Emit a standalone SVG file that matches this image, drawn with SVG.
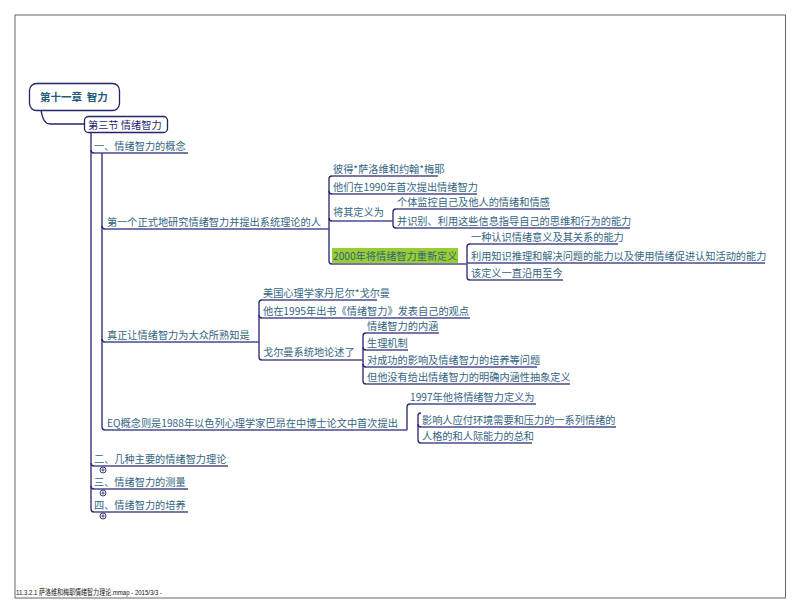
<svg xmlns="http://www.w3.org/2000/svg" width="793" height="613" viewBox="0 0 793 613">
<style>
  .t { font-family: "Noto Sans CJK SC", "Noto Sans", sans-serif; font-size: 10.2px; fill: #33657f; }
  .ul { stroke: #4a4a8e; stroke-width: 1.3; fill: none; }
  .cn { stroke: #24246e; stroke-width: 1.3; fill: none; }
  .box { fill: #ffffff; stroke: #24246e; stroke-width: 1.3; }
  .plus { fill: #ffffff; stroke: #24246e; stroke-width: 0.9; }
</style>
<rect x="0" y="0" width="793" height="613" fill="#ffffff"/>
<rect x="15" y="15" width="770.5" height="583" fill="none" stroke="#666666" stroke-width="1"/>
<text x="16" y="595" textLength="146" lengthAdjust="spacingAndGlyphs" style="font-family: 'Liberation Sans', 'Noto Sans CJK SC', sans-serif; font-size: 7.8px; fill: #111;">11.3.2.1 萨洛维和梅耶情绪智力理论.mmap - 2015/3/3 -</text>

<g id="connectors">
  <path class="cn" d="M41,110 Q43,124 50,124 H84"/>
  <path class="cn" d="M91,132 V509"/>
  <path class="cn" d="M91,150 Q91,153 94,153"/>
  <path class="cn" d="M91,463 Q91,466 94,466"/>
  <path class="cn" d="M91,486 Q91,489 94,489"/>
  <path class="cn" d="M91,509 Q91,512 94,512"/>
  <path class="cn" d="M102,153 V427"/>
  <path class="cn" d="M102,226 Q102,229 105,229"/>
  <path class="cn" d="M102,339 Q102,342 105,342"/>
  <path class="cn" d="M102,427 Q102,430 105,430"/>
  <path class="cn" d="M332,176 Q329,176 329,179 V261 Q329,264 332,264"/>
  <path class="cn" d="M329,191 Q329,194 332,194"/>
  <path class="cn" d="M329,218 Q329,221 332,221"/>
  <path class="cn" d="M396,209 Q393,209 393,212 V225 Q393,228 396,228"/>
  <path class="cn" d="M470,244 Q467,244 467,247 V277 Q467,280 470,280"/>
  <path class="cn" d="M262,300 Q259,300 259,303 V357 Q259,360 262,360"/>
  <path class="cn" d="M259,315 Q259,318 262,318"/>
  <path class="cn" d="M366,333 Q363,333 363,336 V381 Q363,384 366,384"/>
  <path class="cn" d="M363,347 Q363,350 366,350"/>
  <path class="cn" d="M363,364 Q363,367 366,367"/>
  <path class="cn" d="M410,404 Q407,404 407,407 V430"/>
  <path class="cn" d="M421,413 Q418,413 418,416 V440 Q418,443 421,443"/>
  <path class="cn" d="M418,424 Q418,427 421,427"/>
</g>

<g id="root">
  <rect class="box" x="29.5" y="83.5" width="90" height="27" rx="7"/>
  <text x="40" y="101" style="font-family: 'Noto Sans CJK SC', sans-serif; font-size: 10.5px; font-weight: bold; fill: #1f5a78;">第十一章&#160; 智力</text>
</g>
<g id="sec3">
  <rect class="box" x="84.5" y="116.5" width="83" height="16" rx="4"/>
  <text x="88" y="128.5" style="font-family: 'Noto Sans CJK SC', sans-serif; font-size: 10.2px; fill: #1e2a6e;">第三节 情绪智力</text>
</g>

<g id="n1">
  <path class="ul" d="M94,153 H188"/>
  <text class="t" x="94" y="149.5">一、情绪智力的概念</text>
</g>
<g id="n2">
  <path class="ul" d="M94,466 H228"/>
  <text class="t" x="94" y="462.5">二、几种主要的情绪智力理论</text>
  <circle class="plus" cx="103" cy="470" r="3"/>
  <path d="M101.3,470 H104.7 M103,468.3 V471.7" stroke="#24246e" stroke-width="0.8"/>
</g>
<g id="n3">
  <path class="ul" d="M94,489 H188"/>
  <text class="t" x="94" y="485.5">三、情绪智力的测量</text>
  <circle class="plus" cx="103" cy="493" r="3"/>
  <path d="M101.3,493 H104.7 M103,491.3 V494.7" stroke="#24246e" stroke-width="0.8"/>
</g>
<g id="n4">
  <path class="ul" d="M94,512 H188"/>
  <text class="t" x="94" y="508.5">四、情绪智力的培养</text>
  <circle class="plus" cx="103" cy="516" r="3"/>
  <path d="M101.3,516 H104.7 M103,514.3 V517.7" stroke="#24246e" stroke-width="0.8"/>
</g>

<g id="n1a">
  <path class="ul" d="M105,229 H329"/>
  <text class="t" x="107" y="225.5">第一个正式地研究情绪智力并提出系统理论的人</text>
</g>
<g id="n1b">
  <path class="ul" d="M105,342 H259"/>
  <text class="t" x="107" y="338.5">真正让情绪智力为大众所熟知是</text>
</g>
<g id="n1c">
  <path class="ul" d="M105,430 H407"/>
  <text class="t" x="107" y="426.5">EQ概念则是1988年以色列心理学家巴昂在中博士论文中首次提出</text>
</g>

<g id="n1a1">
  <path class="ul" d="M332,176 H438"/>
  <text class="t" x="333" y="172.5">彼得*萨洛维和约翰*梅耶</text>
</g>
<g id="n1a2">
  <path class="ul" d="M332,194 H477"/>
  <text class="t" x="333" y="190.5">他们在1990年首次提出情绪智力</text>
</g>
<g id="n1a3">
  <path class="ul" d="M332,221 H393"/>
  <text class="t" x="333" y="216">将其定义为</text>
</g>
<g id="n1a4">
  <rect x="332" y="248" width="126" height="15" fill="#9acd32"/>
  <path class="ul" d="M332,264 H467"/>
  <text class="t" x="333" y="260">2000年将情绪智力重新定义</text>
</g>

<g id="n1a3a">
  <path class="ul" d="M396,209 H550"/>
  <text class="t" x="397" y="205.5">个体监控自己及他人的情绪和情感</text>
</g>
<g id="n1a3b">
  <path class="ul" d="M396,228 H630"/>
  <text class="t" x="397" y="224.5">并识别、利用这些信息指导自己的思维和行为的能力</text>
</g>

<g id="n1a4a">
  <path class="ul" d="M470,244 H618"/>
  <text class="t" x="471" y="240.5">一种认识情绪意义及其关系的能力</text>
</g>
<g id="n1a4b">
  <path class="ul" d="M467,263 H765"/>
  <text class="t" x="471" y="259.5">利用知识推理和解决问题的能力以及使用情绪促进认知活动的能力</text>
</g>
<g id="n1a4c">
  <path class="ul" d="M470,280 H563"/>
  <text class="t" x="471" y="276.5">该定义一直沿用至今</text>
</g>

<g id="n1b1">
  <path class="ul" d="M262,300 H377"/>
  <text class="t" x="263" y="296.5">美国心理学家丹尼尔*戈尔曼</text>
</g>
<g id="n1b2">
  <path class="ul" d="M262,318 H470"/>
  <text class="t" x="263" y="314.5">他在1995年出书《情绪智力》发表自己的观点</text>
</g>
<g id="n1b3">
  <path class="ul" d="M262,360 H363"/>
  <text class="t" x="263" y="356">戈尔曼系统地论述了</text>
</g>

<g id="n1b3a">
  <path class="ul" d="M366,333 H439"/>
  <text class="t" x="367" y="329.5">情绪智力的内涵</text>
</g>
<g id="n1b3b">
  <path class="ul" d="M366,350 H408"/>
  <text class="t" x="367" y="346.5">生理机制</text>
</g>
<g id="n1b3c">
  <path class="ul" d="M366,367 H537"/>
  <text class="t" x="367" y="363.5">对成功的影响及情绪智力的培养等问题</text>
</g>
<g id="n1b3d">
  <path class="ul" d="M366,384 H570"/>
  <text class="t" x="367" y="380.5">但他没有给出情绪智力的明确内涵性抽象定义</text>
</g>

<g id="n1c1">
  <path class="ul" d="M410,404 H536"/>
  <text class="t" x="410" y="400.5">1997年他将情绪智力定义为</text>
</g>
<g id="n1c2">
  <path class="ul" d="M421,427 H616"/>
  <text class="t" x="422" y="423.5">影响人应付环境需要和压力的一系列情绪的</text>
</g>
<g id="n1c3">
  <path class="ul" d="M421,443 H532"/>
  <text class="t" x="422" y="439.5">人格的和人际能力的总和</text>
</g>
</svg>
